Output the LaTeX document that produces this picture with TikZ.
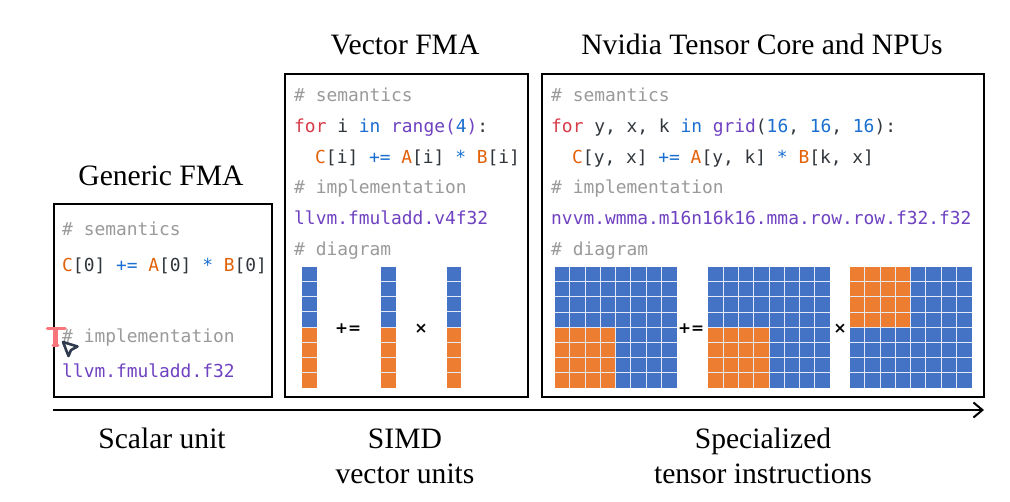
\documentclass[tikz,border=0pt]{standalone}
\usepackage{fontspec}
\setmainfont{Liberation Serif}
\newfontfamily\codefont{DejaVu Sans Mono}
\newfontfamily\opfont{DejaVu Sans}
\usetikzlibrary{arrows.meta}
\definecolor{cellblue}{HTML}{4472C4}
\definecolor{cellorange}{HTML}{ED7D31}
\definecolor{cmtgray}{HTML}{9A9A9A}
\definecolor{codered}{HTML}{D73A49}
\definecolor{codeorange}{HTML}{E36209}
\definecolor{codeblue}{HTML}{1A6FD0}
\definecolor{codepurple}{HTML}{6F42C1}
\definecolor{codeink}{HTML}{30363C}
\definecolor{cursorpink}{HTML}{F8757C}
\definecolor{cursorink}{HTML}{2F3A4E}
\newcommand{\cm}[1]{\textcolor{cmtgray}{#1}}
\newcommand{\kw}[1]{\textcolor{codered}{#1}}
\newcommand{\ov}[1]{\textcolor{codeorange}{#1}}
\newcommand{\bl}[1]{\textcolor{codeblue}{#1}}
\newcommand{\pu}[1]{\textcolor{codepurple}{#1}}
\tikzset{
  panel/.style={draw=black, line width=1.6pt, fill=white},
  title/.style={font=\fontsize{29.6}{29.6}\selectfont, anchor=base, inner sep=0pt},
  code/.style={font=\codefont\fontsize{17.9}{17.9}\selectfont, text=codeink, anchor=base west, inner sep=0pt},
  opsign/.style={font=\opfont\bfseries\fontsize{15.5}{15.5}\selectfont, text=black, inner sep=0pt},
  cellline/.style={white!85!cellblue, line width=1pt}
}
\begin{document}
\begin{tikzpicture}[x=1pt,y=-1pt]
\useasboundingbox (0,0) rectangle (1010,501);
% boxes
\draw[panel] (54,204) rectangle (272,397);
\draw[panel] (285,74) rectangle (528,397);
\draw[panel] (542,74) rectangle (984,397);
% titles
\node[title] (genericT) at (161,185) {Generic FMA};
\node[title] (vectorT) at (405,54) {Vector FMA};
\node[title] (nvidiaT) at (762,54) {Nvidia Tensor Core and NPUs};
% generic
\node[code] (g1) at (62,235) {\cm{\# semantics}};
\node[code] (g2) at (62,271) {\ov{C}[0] \bl{+=} \ov{A}[0] \bl{*} \ov{B}[0]};
\node[code] (g3) at (62,342) {\cm{\# implementation}};
\node[code] (g4) at (62,377) {\pu{llvm.fmuladd.f32}};
% vector
\node[code] (v1) at (294,101) {\cm{\# semantics}};
\node[code] (v2) at (294,132) {\kw{for} i \bl{in} \pu{range}\pu{(}\bl{4}\pu{)}:};
\node[code] (v3) at (315,163) {\ov{C}[i] \bl{+=} \ov{A}[i] \bl{*} \ov{B}[i]};
\node[code] (v4) at (294,193) {\cm{\# implementation}};
\node[code] (v5) at (294,224) {\pu{llvm.fmuladd.v4f32}};
\node[code] (v6) at (294,255) {\cm{\# diagram}};
% nvidia
\node[code] (n1) at (551,101) {\cm{\# semantics}};
\node[code] (n2) at (551,132) {\kw{for} y, x, k \bl{in} \pu{grid}(\bl{16}, \bl{16}, \bl{16}):};
\node[code] (n3) at (572,163) {\ov{C}[y, x] \bl{+=} \ov{A}[y, k] \bl{*} \ov{B}[k, x]};
\node[code] (n4) at (551,193) {\cm{\# implementation}};
\node[code] (n5) at (551,224) {\pu{nvvm.wmma.m16n16k16.mma.row.row.f32.f32}};
\node[code] (n6) at (551,255) {\cm{\# diagram}};
% vector columns
\foreach \cx/\cw in {302/15, 381/14.5, 446.5/14.5} {
  \fill[cellblue] (\cx,266.5) rectangle ++(\cw,60.5);
  \fill[cellorange] (\cx,327) rectangle ++(\cw,61);
  \foreach \k in {1,...,7}
    \draw[cellline] (\cx,266.5+\k*15.15) -- ++(\cw,0);
}
% matrices
\foreach \gx/\ox/\oy in {554.5/554.5/327, 708/708/327, 849.5/849.5/266.5} {
  \fill[cellblue] (\gx,266.5) rectangle ++(122,121.5);
  \fill[cellorange] (\ox,\oy) rectangle ++(61,60.75);
  \foreach \k in {1,...,7} {
    \draw[cellline] (\gx+\k*15.25,266.5) -- ++(0,121.5);
    \draw[cellline] (\gx,266.5+\k*15.19) -- ++(122,0);
  }
}
% operators
\node[opsign] (addV) at (348,329) {+=};
\node[opsign] (mulV) at (421,329) {×};
\node[opsign] (addN) at (691,329) {+=};
\node[opsign] (mulN) at (840,329) {×};
% axis
\coordinate (axisL) at (53,410);
\coordinate (axisR) at (984,410);
\draw[-{Straight Barb[length=9pt,width=15pt]}, line width=2pt] (axisL) -- (axisR);
\node[title] (scalarL) at (162,448) {Scalar unit};
\node[title] (simdL) at (405,448) {SIMD};
\node[title] (unitsL) at (405,483) {vector units};
\node[title] (specL) at (763,448) {Specialized};
\node[title] (tensorL) at (763,483) {tensor instructions};
% cursor
\draw[cursorpink, line width=3.6pt, line cap=round] (47.5,328.5) -- (65,328.5);
\draw[cursorpink, line width=5.4pt] (55.5,328.5) -- (55.5,345);
\draw[cursorpink, line width=3pt, line cap=round] (53,345.8) -- (58,345.8);
\draw[cursorink, fill=white, line width=2.6pt, line join=round] (63,342) -- (77.5,346.5) -- (71,350) -- (68.5,356) -- cycle;
\end{tikzpicture}
\end{document}
